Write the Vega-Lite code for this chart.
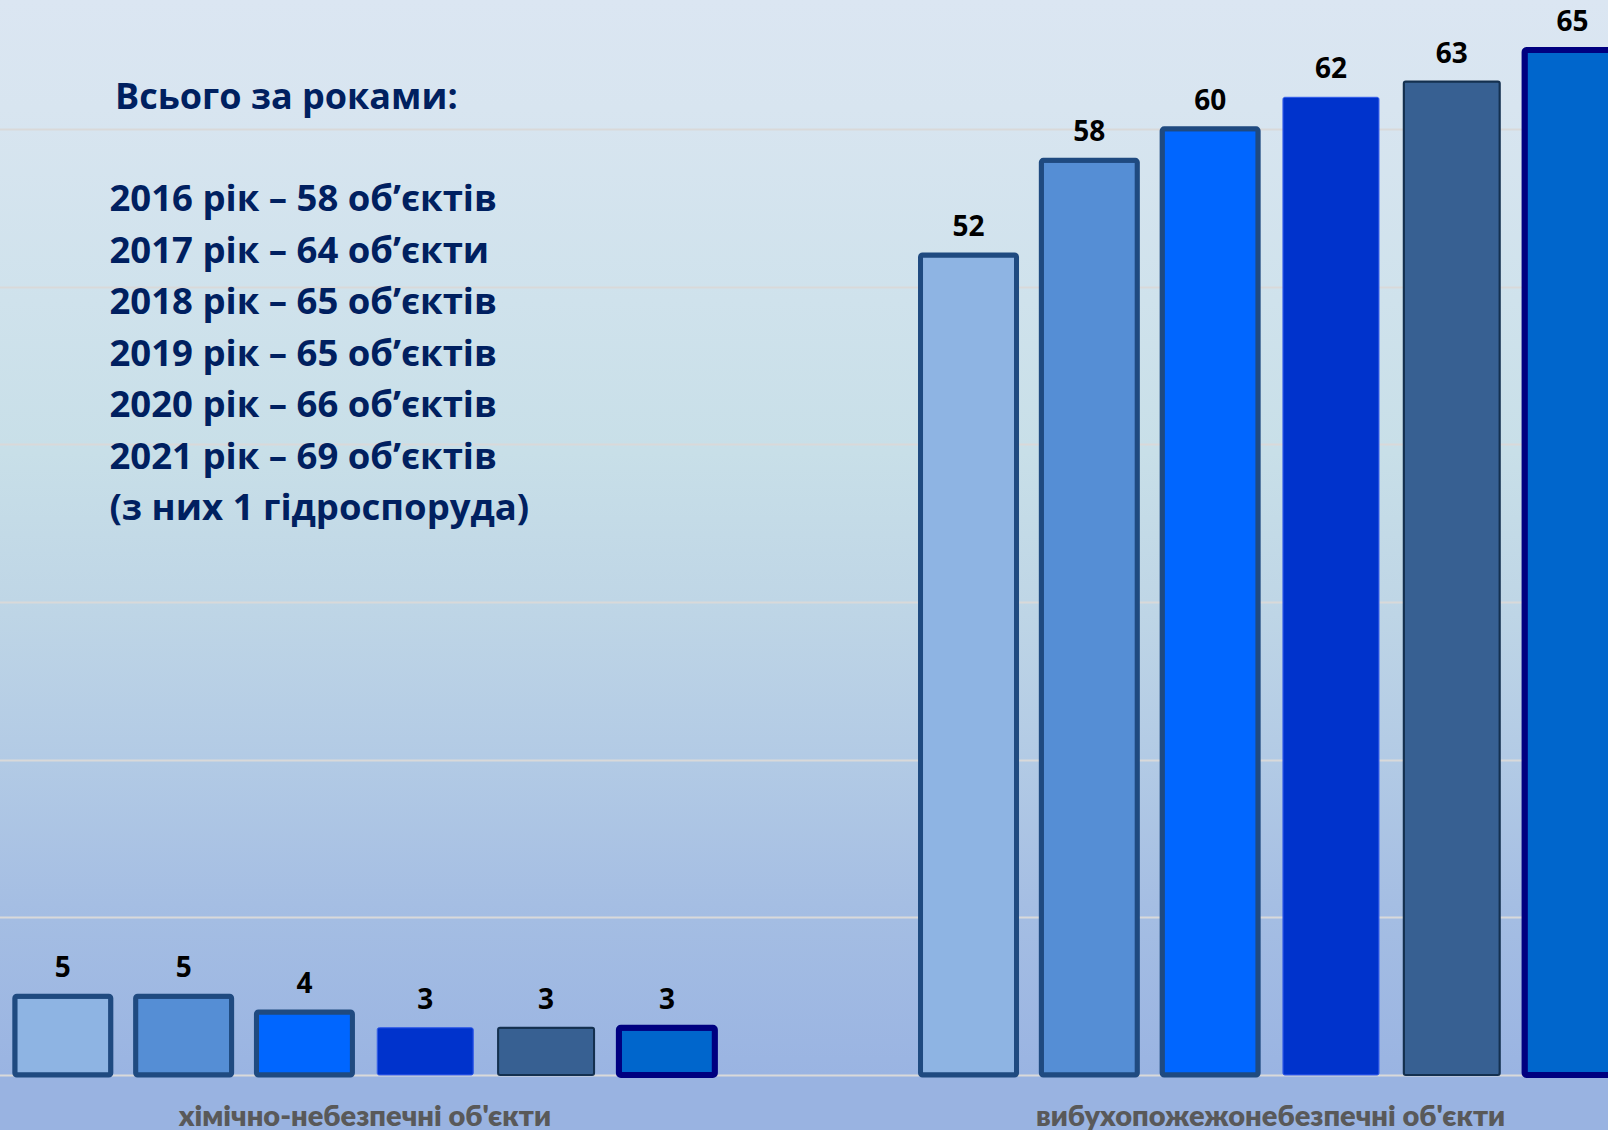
{
  "$schema": "https://vega.github.io/schema/vega-lite/v6.json",
  "width": 1608,
  "height": 1075,
  "autosize": {"type": "none"},
  "padding": {"left": 0, "top": 0, "right": 0, "bottom": 55},
  "background": "#99b3e1",
  "config": {
    "view": {
      "stroke": null,
      "fill": {
        "gradient": "linear", "x1": 0, "y1": 0, "x2": 0, "y2": 1,
        "stops": [
          {"offset": 0, "color": "#dbe6f2"},
          {"offset": 0.1, "color": "#d8e5f0"},
          {"offset": 0.28, "color": "#cfe2ec"},
          {"offset": 0.42, "color": "#c8dfe8"},
          {"offset": 0.56, "color": "#bfd6e6"},
          {"offset": 0.7, "color": "#b3cbe5"},
          {"offset": 0.84, "color": "#a5bee3"},
          {"offset": 1, "color": "#9ab4e2"}
        ]
      }
    },
    "font": "'Open Sans', sans-serif"
  },
  "title": {
    "text": "Всього за роками:",
    "orient": "top",
    "anchor": "start",
    "frame": "group",
    "offset": 0,
    "dx": 115,
    "dy": 117,
    "font": "'Open Sans', sans-serif",
    "fontSize": 36,
    "fontWeight": "bold",
    "color": "#002060"
  },
  "data": {
    "values": [
      {"category": "хімічно-небезпечні об'єкти", "year": "2016", "count": 5},
      {"category": "хімічно-небезпечні об'єкти", "year": "2017", "count": 5},
      {"category": "хімічно-небезпечні об'єкти", "year": "2018", "count": 4},
      {"category": "хімічно-небезпечні об'єкти", "year": "2019", "count": 3},
      {"category": "хімічно-небезпечні об'єкти", "year": "2020", "count": 3},
      {"category": "хімічно-небезпечні об'єкти", "year": "2021", "count": 3},
      {"category": "вибухопожежонебезпечні об'єкти", "year": "2016", "count": 52},
      {"category": "вибухопожежонебезпечні об'єкти", "year": "2017", "count": 58},
      {"category": "вибухопожежонебезпечні об'єкти", "year": "2018", "count": 60},
      {"category": "вибухопожежонебезпечні об'єкти", "year": "2019", "count": 62},
      {"category": "вибухопожежонебезпечні об'єкти", "year": "2020", "count": 63},
      {"category": "вибухопожежонебезпечні об'єкти", "year": "2021", "count": 65}
    ]
  },
  "encoding": {
    "x": {
      "field": "category",
      "type": "nominal",
      "scale": {
        "domain": ["хімічно-небезпечні об'єкти", "вибухопожежонебезпечні об'єкти"],
        "range": [-88, 1723.4],
        "paddingInner": 0,
        "paddingOuter": 0
      },
      "axis": {
        "title": null,
        "domain": false,
        "ticks": false,
        "tickSize": 0,
        "labelAngle": 0,
        "labelPadding": 27,
        "labelFont": "Lato, 'Open Sans', sans-serif",
        "labelFontSize": 29,
        "labelFontWeight": 800,
        "labelColor": "#595959",
        "labelLimit": 0
      }
    },
    "xOffset": {
      "field": "year",
      "type": "nominal",
      "scale": {"paddingInner": 0.2053, "paddingOuter": 0.851}
    },
    "y": {
      "field": "count",
      "type": "quantitative",
      "scale": {"domain": [0, 68.17], "nice": false, "zero": true},
      "axis": {
        "title": [
          "2016 рік – 58 об’єктів",
          "2017 рік – 64 об’єкти",
          "2018 рік – 65 об’єктів",
          "2019 рік – 65 об’єктів",
          "2020 рік – 66 об’єктів",
          "2021 рік – 69 об’єктів",
          "(з них 1 гідроспоруда)"
        ],
        "titleX": 109,
        "titleY": 181.7,
        "titleAngle": 0,
        "titleAlign": "left",
        "titleBaseline": "top",
        "titleFont": "'Open Sans', sans-serif",
        "titleFontSize": 36.5,
        "titleFontWeight": "bold",
        "titleColor": "#002060",
        "titleLineHeight": 51.5,
        "titleLimit": 0,
        "labels": false,
        "ticks": false,
        "domain": false,
        "values": [0, 10, 20, 30, 40, 50, 60],
        "grid": true,
        "gridColor": "#d9d9d9",
        "gridWidth": 2.2
      }
    }
  },
  "layer": [
    {
      "mark": {"type": "bar", "cornerRadius": 2},
      "encoding": {
        "color": {
          "field": "year",
          "type": "nominal",
          "scale": {"range": ["#8eb4e3", "#558ed5", "#0066ff", "#0033cc", "#376092", "#0066cc"]},
          "legend": null
        },
        "stroke": {
          "field": "year",
          "type": "nominal",
          "scale": {"range": ["#1f4a80", "#1f4a80", "#1f4a80", "#2b55e6", "#14304f", "#000080"]},
          "legend": null
        },
        "strokeWidth": {
          "field": "year",
          "type": "nominal",
          "scale": {"type": "ordinal", "domain": ["2016", "2017", "2018", "2019", "2020", "2021"], "range": [5, 5, 5, 1, 2, 6]},
          "legend": null
        }
      }
    },
    {
      "mark": {
        "type": "text",
        "dy": -27,
        "baseline": "middle",
        "font": "'Open Sans', sans-serif",
        "fontSize": 28,
        "fontWeight": "bold",
        "color": "#000000"
      },
      "encoding": {
        "text": {"field": "count", "type": "quantitative"}
      }
    }
  ]
}
